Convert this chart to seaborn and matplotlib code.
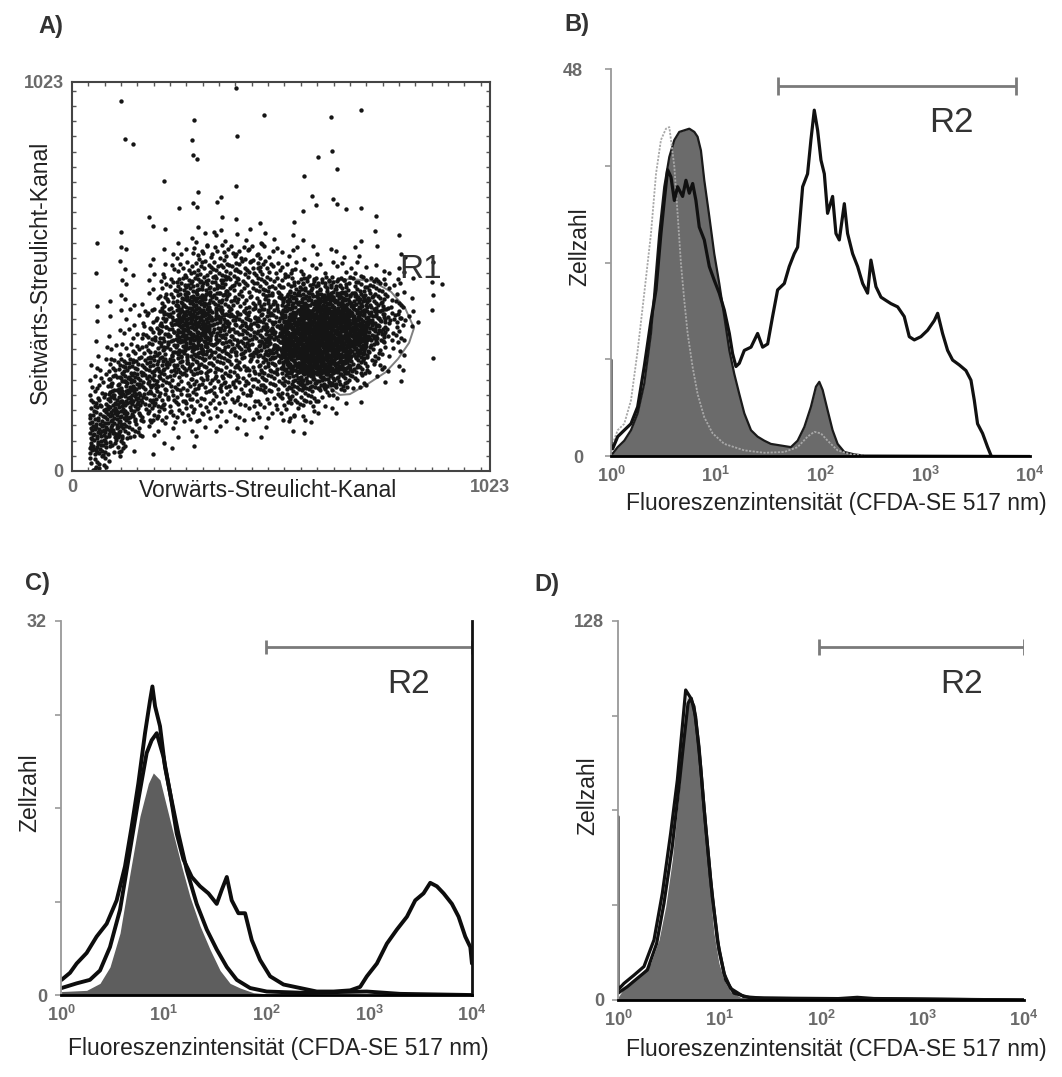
import numpy as np
import matplotlib.pyplot as plt
import seaborn as sns

sns.set_theme(style="white")
plt.rcParams['font.family'] = ['Liberation Sans', 'DejaVu Sans']
plt.rcParams['mathtext.fontset'] = 'custom'
plt.rcParams['mathtext.rm'] = 'Liberation Sans'
plt.rcParams['mathtext.bf'] = 'Liberation Sans:bold'

# ---------------- Panel A: dot plot, dots per cell (24 x 24 cells, top row first)
a_grid = [
    "000000000100000000000000",
    "001000000000000010000000",
    "000000100001001000000000",
    "000200100100000000000000",
    "000000110000002000000000",
    "000000000000010100000000",
    "000001010100000000000000",
    "000000212000022210000000",
    "000020011110100001000000",
    "011001223222110011100000",
    "001112344443322221110000",
    "011223455554433332211000",
    "001124666555566655321100",
    "012235776556778876421000",
    "012346887666899987531000",
    "012356886667999997420000",
    "023456776667999985310000",
    "035666665556899864211000",
    "046765555555677642100000",
    "057765544444554210000000",
    "067654443333432100000000",
    "077532222211110000000000",
    "075212100000000000000000",
    "052000000000000000000000",
]
a_levels = {'0': 0, '1': 1, '2': 2, '3': 4, '4': 8, '5': 13,
            '6': 19, '7': 27, '8': 38, '9': 60}
r1_gate_x = [631, 680, 734, 781, 815, 837, 825, 798, 768, 724, 680, 656, 631, 619, 614, 617, 631]
r1_gate_y = [497, 505, 500, 471, 429, 376, 337, 295, 260, 229, 202, 200, 218, 279, 371, 450, 497]

# ---------------- Panel B (x as decades, y = cell count)
b_ctrl_log = [0.016, 0.064, 0.127, 0.191, 0.255, 0.318, 0.382, 0.430, 0.477, 0.525, 0.557,
              0.573, 0.605, 0.636, 0.668, 0.700, 0.732, 0.780, 0.827, 0.891, 0.971, 1.082,
              1.273, 1.464, 1.655, 1.782, 1.877, 1.941, 2.005, 2.068, 2.164, 2.291, 2.418]
b_ctrl_y = [1.5, 3.2, 4.0, 6.9, 13.1, 20.2, 27.6, 35.0, 39.2, 40.6, 40.8,
            39.2, 35.9, 30.1, 23.9, 19.3, 15.2, 11.0, 7.7, 4.8, 2.8, 1.5,
            0.7, 0.4, 0.5, 1.1, 2.4, 3.0, 2.8, 1.9, 0.7, 0.2, 0.05]
b_fill_log = [0.0, 0.016, 0.064, 0.127, 0.191, 0.255, 0.318, 0.382, 0.414, 0.461, 0.509, 0.557,
              0.605, 0.652, 0.700, 0.748, 0.796, 0.827, 0.859, 0.891, 0.939, 0.986,
              1.034, 1.082, 1.130, 1.177, 1.225, 1.273, 1.337, 1.400, 1.464, 1.527,
              1.623, 1.718, 1.782, 1.846, 1.909, 1.957, 1.989, 2.021, 2.068, 2.116,
              2.164, 2.228, 2.323, 2.418, 4.0]
b_fill_y = [0.3, 0.3, 1.1, 1.9, 3.2, 5.3, 9.0, 15.2, 20.2, 27.6, 33.4, 37.1,
            39.2, 40.2, 40.4, 40.6, 40.2, 39.6, 37.9, 34.2, 29.7, 25.1,
            21.4, 17.3, 13.1, 10.2, 7.7, 5.3, 3.2, 2.4, 1.9, 1.5,
            1.3, 1.1, 1.9, 3.6, 6.1, 8.6, 9.2, 8.2, 5.7, 3.2,
            1.5, 0.5, 0.2, 0.05, 0.0]
b_stim_log = [0.0, 0.0, 0.016, 0.064, 0.127, 0.191, 0.255, 0.318, 0.382, 0.430, 0.477, 0.509,
              0.541, 0.573, 0.605, 0.636, 0.684, 0.716, 0.748, 0.780, 0.811, 0.843,
              0.891, 0.939, 0.986, 1.034, 1.082, 1.130, 1.161, 1.193, 1.225, 1.273,
              1.337, 1.400, 1.448, 1.496, 1.543, 1.591, 1.655, 1.702, 1.750, 1.782,
              1.830, 1.877, 1.909, 1.941, 1.973, 2.005, 2.037, 2.068, 2.116, 2.148,
              2.180, 2.228, 2.259, 2.307, 2.355, 2.403, 2.450, 2.482, 2.530, 2.578,
              2.625, 2.673, 2.737, 2.800, 2.848, 2.896, 2.959, 3.023, 3.087, 3.119,
              3.166, 3.214, 3.262, 3.325, 3.389, 3.437, 3.469, 3.500, 3.548, 3.596, 3.628]
b_stim_y = [11.9, 0.9, 0.9, 2.4, 3.2, 4.0, 6.1, 11.1, 16.8, 20.6, 27.6, 31.7,
            35.5, 34.6, 31.7, 33.4, 32.2, 34.2, 32.6, 33.8, 31.7, 28.4,
            26.8, 23.5, 21.8, 20.2, 18.1, 15.2, 12.7, 11.1, 11.5, 13.1,
            13.5, 15.2, 13.5, 13.9, 17.3, 20.6, 21.4, 23.5, 25.1, 25.9,
            33.4, 35.0, 39.2, 42.9, 40.4, 36.7, 35.0, 30.1, 32.2, 27.6,
            26.8, 31.3, 27.6, 25.1, 23.5, 21.4, 20.2, 24.3, 21.0, 19.7,
            19.3, 18.9, 18.5, 17.3, 14.8, 14.4, 14.8, 15.6, 16.8, 17.7,
            15.2, 13.1, 11.9, 11.3, 10.6, 9.4, 6.9, 4.0, 2.8, 1.1, 0.08]

# ---------------- Panel C
c_wide_log = [0.006, 0.088, 0.153, 0.250, 0.347, 0.445, 0.542, 0.623, 0.688, 0.753, 0.818,
              0.867, 0.890, 0.916, 0.964, 1.013, 1.062, 1.127, 1.192, 1.273, 1.354,
              1.435, 1.516, 1.565, 1.614, 1.662, 1.727, 1.792, 1.857, 1.938, 2.036,
              2.166, 2.328, 2.490, 2.653, 2.815, 2.912, 2.977, 3.075, 3.172, 3.269,
              3.367, 3.448, 3.529, 3.594, 3.659, 3.724, 3.805, 3.870, 3.935, 3.984, 4.0]
c_wide_y = [1.3, 1.9, 2.7, 3.6, 5.0, 6.1, 8.1, 11.0, 14.4, 18.1, 22.4,
            25.2, 26.4, 24.7, 23.0, 19.5, 17.3, 13.8, 11.6, 10.1, 9.3,
            8.7, 7.8, 9.0, 10.1, 8.1, 7.0, 7.0, 4.7, 3.0, 1.6,
            0.9, 0.6, 0.3, 0.3, 0.4, 0.7, 1.6, 2.7, 4.4, 5.6,
            6.7, 8.1, 8.7, 9.6, 9.3, 8.7, 7.8, 6.7, 5.0, 4.1, 2.7]
c_narrow_log = [0.006, 0.153, 0.282, 0.380, 0.477, 0.575, 0.672, 0.753, 0.834, 0.883, 0.932,
                0.997, 1.062, 1.143, 1.224, 1.321, 1.419, 1.516, 1.614, 1.711, 1.841,
                2.003, 2.328, 2.977, 3.302, 4.0]
c_narrow_y = [0.6, 1.0, 1.3, 2.1, 4.1, 7.3, 12.4, 16.7, 20.7, 21.8, 22.4,
              20.4, 17.3, 13.8, 10.7, 7.8, 5.6, 3.9, 2.4, 1.3, 0.6,
              0.3, 0.2, 0.3, 0.1, 0.0]
c_fill_log = [0.006, 0.250, 0.380, 0.477, 0.575, 0.672, 0.769, 0.851, 0.899, 0.964, 1.029,
              1.094, 1.175, 1.256, 1.354, 1.451, 1.549, 1.646, 1.744, 1.873, 2.003, 4.0]
c_fill_y = [0.3, 0.4, 1.0, 2.4, 5.3, 10.4, 15.3, 18.1, 19.0, 18.4, 16.1,
            13.8, 11.0, 8.4, 5.9, 3.9, 2.1, 1.0, 0.6, 0.2, 0.1, 0.0]

# ---------------- Panel D
d_fill_log = [0.0, 0.059, 0.125, 0.223, 0.322, 0.404, 0.470, 0.535, 0.601, 0.650, 0.683,
              0.716, 0.755, 0.798, 0.847, 0.897, 0.946, 0.995, 1.044, 1.110, 1.209, 1.373, 4.0]
d_fill_y = [0.9, 3.9, 6.2, 9.0, 12.4, 20.3, 31.5, 47.3, 69.8, 90.1, 102.4,
            100.2, 96.8, 83.3, 61.9, 40.5, 22.5, 12.4, 6.8, 2.8, 0.9, 0.2, 0.0]
d_line1_log = [0.0, 0.0, 0.059, 0.158, 0.256, 0.355, 0.437, 0.519, 0.585, 0.634, 0.667,
               0.709, 0.749, 0.798, 0.847, 0.913, 0.979, 1.044, 1.110, 1.241, 1.438,
               2.095, 2.358, 2.522, 4.0]
d_line1_y = [61.9, 3.4, 5.6, 8.4, 11.3, 20.3, 36.0, 56.3, 74.3, 92.3, 104.7,
             102.4, 99.1, 85.6, 65.3, 40.5, 20.3, 9.0, 3.9, 1.1, 0.6,
             0.3, 0.9, 0.5, 0.0]
d_line2_log = [0.0, 0.092, 0.190, 0.289, 0.381, 0.453, 0.535, 0.601, 0.650, 0.690, 0.722,
               0.765, 0.814, 0.864, 0.929, 0.995, 1.061, 1.143, 1.307, 4.0]
d_line2_y = [2.3, 4.5, 7.3, 10.1, 19.1, 32.6, 51.8, 72.1, 87.8, 100.2, 101.9,
             95.7, 78.8, 58.5, 34.9, 16.9, 6.8, 2.3, 0.7, 0.0]

# R2 gates: (start, end, level)
b_gate = (39, 7350, 45.9)
c_gate = (100, 10000, 29.8)
d_gate = (96, 10000, 119.2)

x_label = 'Fluoreszenzintensität (CFDA-SE 517 nm)'
decade_labels = [r'$\mathbf{10^{%d}}$' % k for k in range(5)]

GRAY_TXT = '#6a6a6a'


def halton(i, base):
    f, r = 1.0, 0.0
    while i > 0:
        f /= base
        r += f * (i % base)
        i //= base
    return r


def cells_to_dots(grid, levels, size=1023.0):
    n = len(grid)
    cell = size / n
    xs, ys = [], []
    for r, row in enumerate(grid):
        for c, ch in enumerate(row):
            for k in range(levels[ch]):
                idx = k + 1 + (r * n + c) * 61
                xs.append((c + halton(idx, 2)) * cell)
                ys.append(size - (r + halton(idx, 3)) * cell)
    return np.array(xs), np.array(ys)


def line(ax, logx, y, **kw):
    sns.lineplot(x=10 ** np.asarray(logx), y=y, sort=False, estimator=None, ax=ax, **kw)


def hist_axes(ax, ymax, ylab_pad):
    ax.set_xscale('log')
    ax.set_xlim(1, 1e4)
    ax.set_ylim(0, ymax)
    ax.set_xticks([1, 10, 100, 1000, 10000])
    ax.set_xticklabels(decade_labels)
    ax.xaxis.set_minor_locator(plt.NullLocator())
    ax.tick_params(axis='x', length=0, pad=7, labelsize=13, labelcolor=GRAY_TXT)
    ax.set_yticks([0, ymax])
    ax.set_yticklabels(['0', str(ymax)], fontweight='bold')
    ax.set_yticks([ymax / 4, ymax / 2, 3 * ymax / 4], minor=True)
    ax.tick_params(axis='y', which='both', direction='out', length=4, width=1.2,
                   color='#999999', left=True, pad=ylab_pad, labelsize=13,
                   labelcolor=GRAY_TXT)
    for s in ['top', 'right']:
        ax.spines[s].set_visible(False)
    ax.spines['left'].set_color('#999999')
    ax.spines['left'].set_linewidth(1.3)
    ax.spines['bottom'].set_color('black')
    ax.spines['bottom'].set_linewidth(2)
    ax.set_ylabel('Zellzahl', fontsize=16.5, color='#222222')
    ax.yaxis.set_label_coords(-0.047, 0.54)
    ax.grid(False)


def r2_gate(ax, gate, cap):
    x0, x1, lev = gate
    ax.hlines(lev, x0, x1, color='#7a7a7a', lw=2)
    ax.vlines([x0, x1], lev - cap, lev + cap, color='#7a7a7a', lw=2)


fig = plt.figure(figsize=(10.62, 10.77), dpi=100)

# ---------------- A
axA = fig.add_axes([0.0678, 0.5627, 0.3936, 0.3612])
ax_x, ax_y = cells_to_dots(a_grid, a_levels)
sns.lineplot(x=r1_gate_x, y=r1_gate_y, sort=False, estimator=None, color='#808080',
             lw=1.4, ax=axA, zorder=1)
sns.scatterplot(x=ax_x, y=ax_y, s=10, color='#151515', linewidth=0, ax=axA, zorder=2)
axA.text(852, 529, 'R1', fontsize=24, color='#333333', ha='center', va='center')
axA.set_xlim(0, 1023)
axA.set_ylim(0, 1023)
axA.set_xticks([0, 1023])
axA.set_yticks([0, 1023])
axA.set_xticklabels(['0', '1023'], fontweight='bold')
axA.set_yticklabels(['0', '1023'], fontweight='bold')
axA.set_xticks(np.arange(40, 1023, 40), minor=True)
axA.set_yticks(np.arange(40, 1023, 40), minor=True)
axA.tick_params(which='both', direction='in', top=True, right=True, bottom=True, left=True,
                length=3, width=1, color='#555555')
axA.tick_params(which='major', length=0, labelsize=13, labelcolor=GRAY_TXT, pad=6)
for s in axA.spines.values():
    s.set_color('#444444')
    s.set_linewidth(1.5)
axA.set_xlabel('Vorwärts-Streulicht-Kanal', fontsize=16.5, color='#222222')
axA.xaxis.set_label_coords(0.47, -0.02)
axA.xaxis.label.set_va('top')
axA.set_ylabel('Seitwärts-Streulicht-Kanal', fontsize=16.5, color='#222222')
axA.yaxis.set_label_coords(-0.048, 0.51)
axA.grid(False)

# ---------------- B
axB = fig.add_axes([0.5753, 0.5766, 0.3945, 0.3593])
axB.fill_between(10 ** np.array(b_fill_log), b_fill_y, color='#6b6b6b', lw=0)
line(axB, b_fill_log, b_fill_y, color='#1a1a1a', lw=1.6)
line(axB, b_ctrl_log, b_ctrl_y, color='#a8a8a8', lw=1.3, linestyle=(0, (1.2, 0.8)))
line(axB, b_stim_log, b_stim_y, color='#111111', lw=2.3)
hist_axes(axB, 48, 16)
r2_gate(axB, b_gate, 1.1)
axB.text(10 ** 3.246, 41.4, 'R2', fontsize=25, color='#333333', ha='center', va='center')
axB.set_xlabel(x_label, fontsize=16.5, color='#222222')
axB.xaxis.set_label_coords(0.537, -0.093)
axB.xaxis.label.set_va('top')

# ---------------- C
axC = fig.add_axes([0.0574, 0.0761, 0.387, 0.3473])
axC.fill_between(10 ** np.array(c_fill_log), c_fill_y, color='#5e5e5e', lw=0)
line(axC, c_narrow_log, c_narrow_y, color='#0d0d0d', lw=2.8)
line(axC, c_wide_log, c_wide_y, color='#0d0d0d', lw=2.8)
hist_axes(axC, 32, 6)
axC.spines['right'].set_visible(True)
axC.spines['right'].set_color('#111111')
axC.spines['right'].set_linewidth(2)
r2_gate(axC, c_gate, 0.6)
axC.text(10 ** 3.387, 26.6, 'R2', fontsize=24, color='#333333', ha='center', va='center')
axC.set_xlabel(x_label, fontsize=16.5, color='#222222')
axC.xaxis.set_label_coords(0.53, -0.112)
axC.xaxis.label.set_va('top')

# ---------------- D
axD = fig.add_axes([0.5819, 0.0715, 0.3823, 0.3519])
axD.fill_between(10 ** np.array(d_fill_log), d_fill_y, color='#6b6b6b', lw=0)
line(axD, d_line2_log, d_line2_y, color='#111111', lw=2.3)
line(axD, d_line1_log, d_line1_y, color='#111111', lw=2.3)
hist_axes(axD, 128, 6)
r2_gate(axD, d_gate, 2.6)
axD.text(10 ** 3.389, 106.4, 'R2', fontsize=24, color='#333333', ha='center', va='center')
axD.set_xlabel(x_label, fontsize=16.5, color='#222222')
axD.xaxis.set_label_coords(0.537, -0.1)
axD.xaxis.label.set_va('top')

# panel letters
for txt, px, py in [('A)', 38, 33), ('B)', 564, 31), ('C)', 25, 590), ('D)', 534, 591)]:
    fig.text(px / 1062, 1 - py / 1077, txt, fontsize=17, fontweight='bold',
             color='#333333', va='baseline', ha='left')

fig.savefig('out.png', dpi=100)
plt.close(fig)
